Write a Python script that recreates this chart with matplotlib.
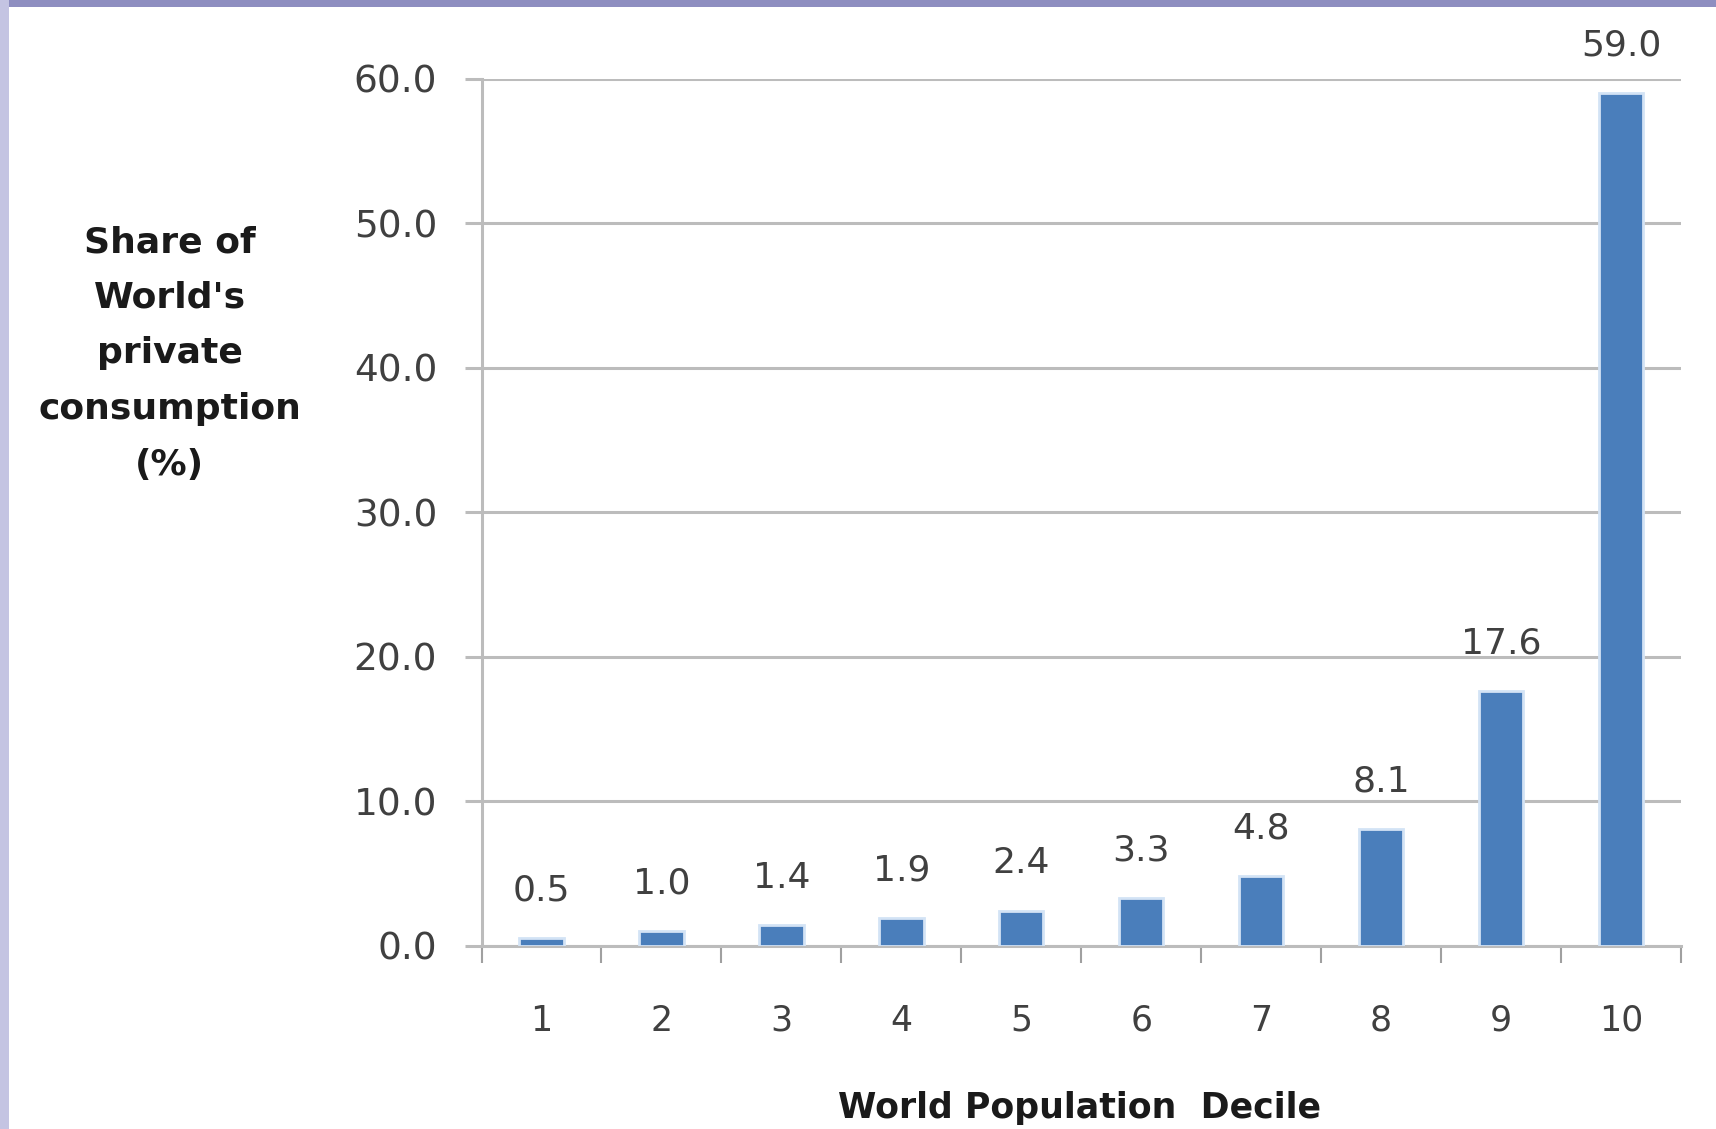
import matplotlib.pyplot as plt
from matplotlib.patches import Rectangle

# share of world private consumption by population decile
deciles = ["1", "2", "3", "4", "5", "6", "7", "8", "9", "10"]
shares = [0.5, 1.0, 1.4, 1.9, 2.4, 3.3, 4.8, 8.1, 17.6, 59.0]
y_ticks = [0, 10, 20, 30, 40, 50, 60]

bar_color = "#4a7ebb"
grid_color = "#bcbcbc"
text_color = "#404040"

fig = plt.figure(figsize=(17.16, 11.29), dpi=100)
fig.patch.set_facecolor("white")

# slide background showing along the top and left edges
fig.patches.append(Rectangle((0, 0.9938), 1, 0.0062, transform=fig.transFigure,
                             facecolor="#8e8ec0", edgecolor="none", zorder=0))
fig.patches.append(Rectangle((0, 0), 0.0055, 1, transform=fig.transFigure,
                             facecolor="#c4c4e2", edgecolor="none", zorder=0))

ax = fig.add_axes([0.2806, 0.1624, 0.699, 0.7678])
x = list(range(1, len(deciles) + 1))
bars = ax.bar(x, shares, width=0.37, color=bar_color,
              edgecolor="#d3e3f5", linewidth=2.0, zorder=3)

for xi, v in zip(x, shares):
    ax.annotate(f"{v:.1f}", (xi, v), xytext=(0, 22), textcoords="offset points",
                ha="center", va="bottom", fontsize=26, color=text_color)

ax.set_xlim(0.5, 10.5)
ax.set_ylim(0, 60)
ax.set_yticks(y_ticks)
ax.set_yticklabels([f"{t:.1f}" for t in y_ticks], fontsize=27, color=text_color)
ax.yaxis.grid(True, color=grid_color, linewidth=2.2, zorder=0)
ax.set_axisbelow(True)

ax.set_xticks(x)
ax.set_xticklabels(deciles, fontsize=25, color=text_color)
ax.set_xticks([i + 0.5 for i in range(0, 11)], minor=True)
ax.tick_params(axis="x", which="major", length=0, pad=42)
ax.tick_params(axis="x", which="minor", length=12, width=1.5, color="#a0a0a0",
               direction="out")
ax.tick_params(axis="y", length=12, width=2.2, color=grid_color, pad=20)

for side in ("top", "right"):
    ax.spines[side].set_visible(False)
for side in ("left", "bottom"):
    ax.spines[side].set_color(grid_color)
    ax.spines[side].set_linewidth(2.2)

fig.text(0.099, 0.687, "Share of\nWorld's\nprivate\nconsumption\n(%)",
         ha="center", va="center", fontsize=26, fontweight="bold",
         color="#1a1a1a", linespacing=1.8)
fig.text(0.629, 0.019, "World Population  Decile", ha="center", va="center",
         fontsize=25, fontweight="bold", color="#1a1a1a")

fig.savefig("out.png", dpi=100)
